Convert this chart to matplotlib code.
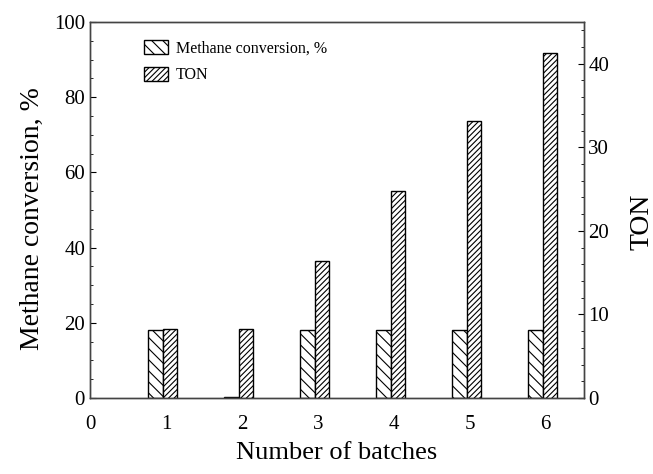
import numpy as np
import matplotlib.pyplot as plt
from matplotlib.ticker import MultipleLocator

plt.rcParams['font.family'] = 'Liberation Serif'
plt.rcParams['hatch.linewidth'] = 0.8

batches = np.array([1, 2, 3, 4, 5, 6])
conversion = [18.0, 0.4, 18.0, 18.0, 18.0, 18.0]
ton = [8.3, 8.3, 16.4, 24.8, 33.1, 41.3]

fig = plt.figure(figsize=(6.53, 4.74), dpi=100)
ax = fig.add_axes([0.1378, 0.1603, 0.7558, 0.7933])
ax2 = ax.twinx()

w = 0.19
ax.bar(batches - 0.135, conversion, w, facecolor='white', edgecolor='black',
       hatch='\\\\\\', linewidth=1.0, label='Methane conversion, %')
ax2.bar(batches + 0.055, ton, w, facecolor='white', edgecolor='black',
        hatch='//////', linewidth=1.0, label='TON')

ax.set_xlim(0, 6.5)
ax.set_ylim(0, 100)
ax2.set_ylim(0, 45)
ax.set_xticks(range(0, 7))
ax.yaxis.set_major_locator(MultipleLocator(20))
ax.yaxis.set_minor_locator(MultipleLocator(5))
ax2.yaxis.set_major_locator(MultipleLocator(10))
ax2.yaxis.set_minor_locator(MultipleLocator(2))

ax.tick_params(axis='x', length=0, labelsize=15, pad=12)
ax.tick_params(axis='y', which='both', direction='in', labelsize=15)
ax.tick_params(axis='y', which='major', length=4)
ax.tick_params(axis='y', which='minor', length=2)
ax2.tick_params(axis='y', which='both', direction='in', labelsize=15)
ax2.tick_params(axis='y', which='major', length=4)
ax2.tick_params(axis='y', which='minor', length=2)

for a in (ax, ax2):
    for s in a.spines.values():
        s.set_color('#444444')
        s.set_linewidth(1.0)

ax.set_xlabel('Number of batches', fontsize=19, labelpad=6)
ax.set_ylabel('Methane conversion, %', fontsize=20)
ax.yaxis.set_label_coords(-0.092, 0.478)
ax2.set_ylabel('TON', fontsize=20)
ax2.yaxis.set_label_coords(1.093, 0.468)

h1, l1 = ax.get_legend_handles_labels()
h2, l2 = ax2.get_legend_handles_labels()
ax.legend(h1 + h2, l1 + l2, loc='upper left', bbox_to_anchor=(0.08, 0.99),
          frameon=False, fontsize=11.5, handlelength=1.5, handleheight=0.95,
          handletextpad=0.5, labelspacing=0.65)

fig.savefig('out.png', dpi=100)
